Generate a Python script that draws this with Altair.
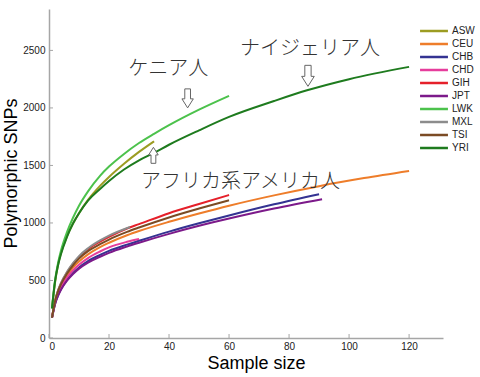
import altair as alt
import pandas as pd

# ---------------- data ----------------
SERIES = ["ASW", "CEU", "CHB", "CHD", "GIH", "JPT", "LWK", "MXL", "TSI", "YRI"]
COLORS = ["#9c9c22", "#ee7d2a", "#343392", "#e63d9c", "#e5202a",
          "#7c1a8a", "#4cc24c", "#8c8c8c", "#7b4b24", "#1e7b1e"]

ASW_X = [1, 2, 3, 4, 6, 8, 10, 13, 17, 20, 25, 30, 35]
ASW_Y = [258, 480, 635, 740, 885, 995, 1085, 1200, 1322, 1400, 1515, 1618, 1710]

CEU_X = [1, 2, 3, 4, 6, 8, 10, 13, 17, 20, 26, 30, 40, 50, 60, 75, 90, 105, 120]
CEU_Y = [177, 312, 397, 458, 545, 612, 665, 727, 790, 828, 893, 930, 1010, 1082, 1150, 1240, 1320, 1390, 1452]

CHB_X = [1, 2, 3, 4, 6, 8, 10, 13, 17, 20, 26, 30, 40, 50, 60, 75, 90]
CHB_Y = [175, 295, 370, 425, 505, 565, 613, 668, 722, 758, 812, 845, 925, 997, 1065, 1162, 1250]

CHD_X = [1, 2, 3, 4, 6, 8, 10, 13, 17, 20, 26, 30]
CHD_Y = [177, 305, 385, 443, 525, 588, 637, 695, 752, 788, 836, 860]

GIH_X = [1, 2, 3, 4, 6, 8, 10, 13, 17, 20, 26, 30, 40, 50, 60]
GIH_Y = [177, 320, 410, 475, 570, 645, 705, 772, 838, 880, 952, 990, 1085, 1165, 1243]

JPT_X = [1, 2, 3, 4, 6, 8, 10, 13, 17, 20, 26, 30, 40, 50, 60, 75, 91]
JPT_Y = [175, 292, 366, 420, 498, 556, 603, 656, 706, 740, 795, 828, 905, 975, 1038, 1125, 1206]

LWK_X = [1, 2, 3, 4, 6, 8, 10, 13, 17, 20, 25, 30, 35, 40, 50, 60]
LWK_Y = [258, 500, 650, 760, 920, 1045, 1150, 1275, 1410, 1490, 1600, 1695, 1775, 1850, 1985, 2105]

MXL_X = [1, 2, 3, 4, 6, 8, 10, 13, 17, 20, 27]
MXL_Y = [177, 320, 412, 478, 575, 650, 712, 780, 848, 890, 965]

TSI_X = [1, 2, 3, 4, 6, 8, 10, 13, 17, 20, 26, 30, 40, 50, 60]
TSI_Y = [177, 318, 405, 468, 560, 632, 690, 755, 815, 856, 922, 960, 1048, 1125, 1197]

YRI_X = [1, 2, 3, 4, 6, 8, 10, 13, 17, 20, 25, 30, 35, 40, 50, 60, 75, 86, 100, 120]
YRI_Y = [258, 490, 630, 730, 880, 995, 1085, 1195, 1295, 1365, 1465, 1545, 1610, 1680, 1805, 1922, 2060, 2153, 2250, 2357]

X_TICKS = [0, 20, 40, 60, 80, 100, 120]
Y_TICKS = [0, 500, 1000, 1500, 2000, 2500]

ANNOT_TEXT = ["ケニア人", "ナイジェリア人", "アフリカ系アメリカ人"]
ANNOT_X = [39.7, 87.0, 63.8]
ANNOT_Y = [2335, 2514, 1354]

ARROW_X = [46.2, 86.3, 34.8]
ARROW_Y = [2083, 2279, 1588]
ARROW_DIR = ["down", "down", "up"]
ARROW_SIZE = [361, 441, 256]

# ---------------- build table ----------------
series_data = {
    "ASW": (ASW_X, ASW_Y), "CEU": (CEU_X, CEU_Y), "CHB": (CHB_X, CHB_Y),
    "CHD": (CHD_X, CHD_Y), "GIH": (GIH_X, GIH_Y), "JPT": (JPT_X, JPT_Y),
    "LWK": (LWK_X, LWK_Y), "MXL": (MXL_X, MXL_Y), "TSI": (TSI_X, TSI_Y),
    "YRI": (YRI_X, YRI_Y),
}
rows = []
for i, name in enumerate(SERIES):
    xs, ys = series_data[name]
    for x, y in zip(xs, ys):
        rows.append({"series": name, "order": i, "n": x, "snps": y})
df = pd.DataFrame(rows)

W, H = 394, 329
X_DOM = [0, 131.3]
Y_DOM = [0, 2860]
AXIS_COLOR = "#a6a6a6"
FONT = "Liberation Sans"

xscale = alt.Scale(domain=X_DOM, nice=False, zero=False)
yscale = alt.Scale(domain=Y_DOM, nice=False, zero=False)

X_AXIS = alt.Axis(
    values=X_TICKS, title="Sample size", ticks=False, grid=False, format="d",
    domainColor=AXIS_COLOR, domainWidth=1.5, labelFontSize=10, labelFont=FONT,
    labelColor="#222", labelPadding=3, titleFontSize=18, titleFont=FONT,
    titleFontWeight="normal", titleColor="#000", titleX=207, titleY=30,
    titleBaseline="alphabetic")
Y_AXIS = alt.Axis(
    values=Y_TICKS, title="Polymorphic SNPs", ticks=False, grid=False, format="d",
    domainColor=AXIS_COLOR, domainWidth=1.5, labelFontSize=10, labelFont=FONT,
    labelColor="#222", labelPadding=4, titleFontSize=18, titleFont=FONT,
    titleFontWeight="normal", titleColor="#000", titleX=-38, titleY=164,
    titleAngle=-90, titleBaseline="middle")


def xenc(field):
    return alt.X(field, scale=xscale, axis=X_AXIS, title="Sample size")


def yenc(field):
    return alt.Y(field, scale=yscale, axis=Y_AXIS, title="Polymorphic SNPs")


lines = alt.Chart(df).mark_line(strokeWidth=2, interpolate="monotone").encode(
    x=xenc("n:Q"),
    y=yenc("snps:Q"),
    color=alt.Color("series:N", scale=alt.Scale(domain=SERIES, range=COLORS),
                    legend=alt.Legend(
                        title=None, orient="none", legendX=379, legendY=16,
                        symbolType="M-3.1,0L3.1,0", symbolSize=81, symbolStrokeWidth=2.5,
                        labelFontSize=10, labelFont=FONT, labelColor="#222",
                        labelOffset=12, rowPadding=2, padding=0)),
    detail="series:N",
    order=alt.Order("order:Q"),
)

xt = alt.Chart(pd.DataFrame({"v": X_TICKS})).mark_rule(color=AXIS_COLOR, strokeWidth=1).encode(
    x=xenc("v:Q"),
    y=alt.value(H), y2=alt.value(H - 4),
)
yt = alt.Chart(pd.DataFrame({"v": Y_TICKS})).mark_rule(color=AXIS_COLOR, strokeWidth=1).encode(
    y=yenc("v:Q"),
    x=alt.value(0), x2=alt.value(4),
)

annot = alt.Chart(pd.DataFrame({"t": ANNOT_TEXT, "x": ANNOT_X, "y": ANNOT_Y})).mark_text(
    font="Noto Sans CJK JP", fontSize=20, fontWeight=300, color="#333",
    align="center", baseline="middle",
).encode(
    x=xenc("x:Q"),
    y=yenc("y:Q"),
    text="t:N",
)

DOWN = "M-0.3,-1L0.3,-1L0.3,0.05L0.6,0.05L0,1L-0.6,0.05L-0.3,0.05Z"
UP = "M-0.3,1L0.3,1L0.3,-0.05L0.6,-0.05L0,-1L-0.6,-0.05L-0.3,-0.05Z"
arr_df = pd.DataFrame({"x": ARROW_X, "y": ARROW_Y, "d": ARROW_DIR, "s": ARROW_SIZE})
arrows_down = alt.Chart(arr_df).transform_filter(alt.datum.d == "down").mark_point(
    shape=DOWN, filled=True, fill="white", stroke="#666", strokeWidth=1, opacity=1,
).encode(
    x=xenc("x:Q"),
    y=yenc("y:Q"),
    size=alt.Size("s:Q", scale=None, legend=None),
)
arrows_up = alt.Chart(arr_df).transform_filter(alt.datum.d == "up").mark_point(
    shape=UP, filled=True, fill="white", stroke="#666", strokeWidth=1, opacity=1,
).encode(
    x=xenc("x:Q"),
    y=yenc("y:Q"),
    size=alt.Size("s:Q", scale=None, legend=None),
)

chart = alt.layer(lines, xt, yt, annot, arrows_down, arrows_up).properties(
    width=W, height=H,
    padding={"left": 49, "top": 9, "right": 480 - 49 - W, "bottom": 377 - 9 - H},
    autosize=alt.AutoSizeParams(type="none"),
    background="white",
).configure_view(strokeWidth=0)

chart.save("out.html", embed_options={"renderer": "svg", "actions": False})
